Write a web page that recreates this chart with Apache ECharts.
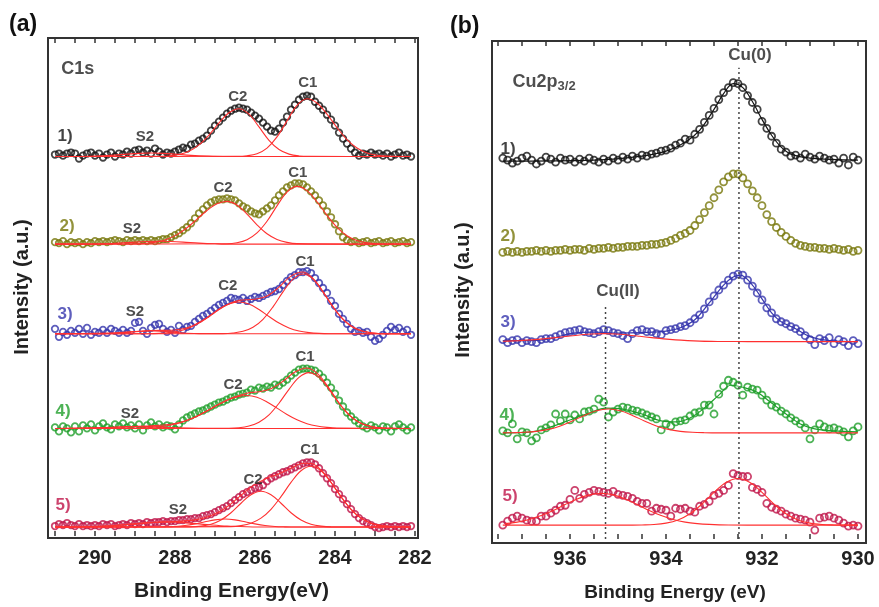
<!DOCTYPE html>
<html>
<head>
<meta charset="utf-8">
<script src="https://cdn.jsdelivr.net/npm/echarts@6/dist/echarts.min.js"></script>
<style>
  html, body { margin: 0; background: #fff; }
  #chart { width: 879px; height: 607px; }
</style>
</head>
<body>
<div id="chart"></div>
<script>
// ---- C1s panel (a): binding energies and the five spectra (height above each baseline, a.u.)
const ENERGY_C1S = [
  291.0,290.9,290.8,290.7,290.6,290.5,290.4,290.3,290.2,290.1,
  290.0,289.9,289.8,289.7,289.6,289.5,289.4,289.3,289.2,289.1,
  289.0,288.9,288.8,288.7,288.6,288.5,288.4,288.3,288.2,288.1,
  288.0,287.9,287.8,287.7,287.6,287.5,287.4,287.3,287.2,287.1,
  287.0,286.9,286.8,286.7,286.6,286.5,286.4,286.3,286.2,286.1,
  286.0,285.9,285.8,285.7,285.6,285.5,285.4,285.3,285.2,285.1,
  285.0,284.9,284.8,284.7,284.6,284.5,284.4,284.3,284.2,284.1,
  284.0,283.9,283.8,283.7,283.6,283.5,283.4,283.3,283.2,283.1,
  283.0,282.9,282.8,282.7,282.6,282.5,282.4,282.3,282.2,282.1
];
const C1S_1 = [
  2,3,1,3,4,3,-2,1,3,4, 1,3,-1,2,4,0,3,2,5,3, 6,7,4,6,3,8,5,2,4,3,
  5,7,9,8,12,13,16,18,21,26, 31,35,39,43,46,48,49,48,47,44, 41,38,34,30,26,25,28,34,40,47,
  52,57,60,61,60,55,51,47,42,37, 31,24,18,13,8,4,1,3,2,4, 2,3,1,3,0,2,4,1,2,0
];
const C1S_2 = [
  2,1,3,0,2,1,2,0,2,1, 3,2,3,2,3,4,3,2,4,3, 4,3,4,3,4,3,4,5,5,7,
  9,11,14,17,21,26,31,35,39,42, 44,45,45,46,45,44,41,38,36,33, 31,30,33,36,39,44,49,53,57,59,
  61,61,60,57,53,49,44,39,33,27, 20,13,7,4,2,3,1,2,3,1, 2,3,1,2,3,1,2,3,1,2
];
const C1S_3 = [
  5,-3,2,-1,3,1,5,0,6,-1, 2,1,4,1,5,3,1,4,1,3, 11,12,3,0,6,9,10,5,2,4,
  1,8,4,7,8,12,15,18,20,23, 26,29,31,33,36,35,34,36,33,35, 37,36,38,40,42,43,45,49,53,57,
  59,62,62,63,61,56,51,46,41,33, 28,20,15,10,5,2,3,1,2,-3, -7,-5,-1,3,7,4,6,2,4,-1
];
const C1S_4 = [
  1,-3,2,0,-4,2,-3,3,0,4, -2,2,5,1,-1,4,2,5,1,3, 0,4,-2,3,6,2,4,1,3,2,
  -1,4,8,11,13,15,17,18,20,22, 24,26,27,29,31,32,34,35,36,39, 38,41,40,42,41,44,43,46,49,53,
  56,59,60,60,59,58,55,51,46,41, 35,28,22,16,12,8,5,2,0,3, 1,-2,2,1,-3,2,4,1,-2,1
];
const C1S_5 = [
  1,3,2,4,2,1,3,1,2,1, 2,1,3,2,3,1,2,3,2,4, 3,4,3,5,4,5,5,6,5,6,
  6,7,7,8,8,9,9,11,12,13, 15,17,19,21,24,27,30,33,35,37, 39,40,42,46,49,51,53,55,56,58,
  60,62,64,65,65,63,59,54,49,44, 38,33,28,23,18,13,9,6,4,2, 0,-1,0,1,0,1,0,1,0,1
];
const C1S_OFFSETS = [381, 293, 203, 108, 9];

// fitted components [energy, height]
const FIT_A1_C1 = [[291,0],[286.45,0.2],[286.2,0.75],[285.95,2.8],[285.7,8.5],[285.45,19.7],[285.2,35.8],[284.95,51.4],[284.7,58],[284.45,53.7],[284.2,42.6],[283.95,29],[283.7,16.9],[283.45,8.5],[283.2,3.6],[282.95,1.3],[282.7,0.4],[282.1,0]];
const FIT_A1_C2 = [[291,0],[288.4,0.17],[288.15,0.6],[287.9,2],[287.65,5.3],[287.4,11.7],[287.15,21.6],[286.9,33.7],[286.65,43.9],[286.4,48],[286.15,42.5],[285.9,29.7],[285.65,16.3],[285.4,7],[285.15,2.4],[284.9,0.6],[284.65,0.15],[282.1,0]];
const FIT_A1_S2 = [[291,0],[290.4,0],[290,0.4],[289.6,1.2],[289.2,2.4],[288.9,3.2],[288.6,3.5],[288.3,3.2],[288,2.4],[287.6,1.2],[287.2,0.4],[286.8,0],[282.1,0]];
const FIT_A2_C1 = [[291,0],[286.7,0.4],[286.45,1.45],[286.2,4.5],[285.95,11.3],[285.7,23],[285.45,38.5],[285.2,52.3],[284.95,58],[284.7,53.7],[284.45,42.6],[284.2,29],[283.95,16.9],[283.7,8.5],[283.45,3.6],[283.2,1.3],[282.95,0.4],[282.1,0]];
const FIT_A2_C2 = [[291,0],[288.95,0.34],[288.7,0.9],[288.45,2.3],[288.2,5],[287.95,9.6],[287.7,16.5],[287.45,25.1],[287.2,33.8],[286.95,40.5],[286.7,43],[286.45,39.3],[286.2,30.2],[285.95,19.4],[285.7,10.4],[285.45,4.7],[285.2,1.8],[284.95,0.56],[282.1,0]];
const FIT_A2_S2 = [[291,0],[290.2,0],[289.8,0.4],[289.4,1.1],[289,2.1],[288.7,2.7],[288.4,3],[288.1,2.7],[287.8,2.1],[287.4,1.1],[287,0.4],[286.6,0],[282.1,0]];
const FIT_A3_C1 = [[291,0],[286.8,0.2],[286.55,0.8],[286.3,2.5],[286.05,6.6],[285.8,14.6],[285.55,27.1],[285.3,42.1],[285.05,54.9],[284.8,60],[284.55,54.9],[284.3,42.1],[284.05,27.1],[283.8,14.6],[283.55,6.6],[283.3,2.5],[283.05,0.8],[282.8,0.2],[282.1,0]];
const FIT_A3_C2 = [[291,0],[288.65,0.1],[288.4,0.4],[288.15,1.2],[287.9,2.8],[287.65,5.9],[287.4,10.8],[287.15,17.4],[286.9,24.4],[286.65,29.9],[286.4,32],[286.15,29.9],[285.9,24.4],[285.65,17.4],[285.4,10.8],[285.15,5.9],[284.9,2.8],[284.65,1.2],[284.4,0.4],[284.15,0.1],[282.1,0]];
const FIT_A3_S2 = [[291,0],[290.2,0],[289.8,0.2],[289.4,0.8],[289.1,1.9],[288.85,2.6],[288.6,3],[288.35,2.6],[288.1,1.9],[287.8,0.8],[287.4,0.2],[287,0],[282.1,0]];
const FIT_A3_SUM = [[291,0],[289.5,1],[288.6,3.2],[288,3.8],[287.6,7.4],[287.2,16.2],[286.8,27.1],[286.4,33.6],[286,34.7],[285.7,37.9],[285.4,46.8],[285.1,57.9],[284.8,62],[284.5,53.4],[284.2,36],[283.9,19.1],[283.6,7.8],[283.3,2.5],[282.9,0.3],[282.1,0]];
const FIT_A4_C1 = [[291,0],[286.65,0.2],[286.4,0.7],[286.15,2.4],[285.9,6.2],[285.65,13.6],[285.4,25.3],[285.15,39.3],[284.9,51.2],[284.65,56],[284.4,51.2],[284.15,39.3],[283.9,25.3],[283.65,13.6],[283.4,6.2],[283.15,2.4],[282.9,0.7],[282.65,0.2],[282.1,0]];
const FIT_A4_C2 = [[291,0],[288.95,0.3],[288.7,0.7],[288.45,1.4],[288.2,2.7],[287.95,4.8],[287.7,8],[287.45,12.3],[287.2,17.6],[286.95,23.2],[286.7,28.2],[286.45,31.7],[286.2,33],[285.95,31.3],[285.7,26.6],[285.45,20.4],[285.2,14],[284.95,8.7],[284.7,4.8],[284.45,2.4],[284.2,1.1],[283.95,0.4],[282.1,0]];
const FIT_A4_S2 = [[291,0],[290.4,0],[290,0.3],[289.6,1],[289.2,1.8],[288.9,2],[288.6,1.8],[288.2,1],[287.8,0.3],[287.4,0],[282.1,0]];
const FIT_A4_SUM = [[291,0],[289.5,1.2],[288.5,2.8],[288,4.9],[287.7,8.2],[287.4,13.3],[287.1,19.9],[286.8,26.4],[286.5,31.7],[286.2,35.4],[285.9,36.8],[285.6,39.9],[285.3,47.3],[285,56.6],[284.7,60.6],[284.4,53.6],[284.1,37.4],[283.8,20.4],[283.5,8.6],[283.2,2.9],[282.8,0.4],[282.1,0]];
const FIT_A5_C1 = [[291,0],[286.6,0.4],[286.35,1.4],[286.1,3.8],[285.85,8.9],[285.6,17.8],[285.35,30.5],[285.1,44.8],[284.85,56.5],[284.6,61],[284.35,56.5],[284.1,44.8],[283.85,30.5],[283.6,17.8],[283.35,8.9],[283.1,3.8],[282.85,1.4],[282.6,0.4],[282.1,0]];
const FIT_A5_C2 = [[291,0],[287.6,0.2],[287.35,0.9],[287.1,2.8],[286.85,7],[286.6,14.3],[286.35,23.9],[286.1,32.5],[285.85,36],[285.6,32.5],[285.35,23.9],[285.1,14.3],[284.85,7],[284.6,2.8],[284.35,0.9],[284.1,0.2],[282.1,0]];
const FIT_A5_S2 = [[291,0],[288.5,0],[288.25,0.2],[288,0.6],[287.75,1.55],[287.5,3.2],[287.25,5.3],[287,7.2],[286.75,8],[286.5,7.2],[286.25,5.3],[286,3.2],[285.75,1.55],[285.5,0.6],[285.25,0.2],[285,0],[282.1,0]];
const FIT_A5_S2B = [[291,0],[290.7,0],[290.2,0.3],[289.7,1],[289.2,2.5],[288.7,4.2],[288.2,5],[287.7,4.2],[287.2,2.5],[286.7,1],[286.2,0.3],[285.7,0],[282.1,0]];
const FIT_A5_SUM = [[291,0],[290,0.5],[289,3.2],[288.5,4.8],[288,5.5],[287.5,7.2],[287.2,10],[286.9,15.1],[286.6,23.3],[286.3,33.6],[286,42.8],[285.7,49.1],[285.4,53.5],[285.1,59.1],[284.8,64],[284.6,63.8],[284.3,55.3],[284,39.2],[283.7,22.5],[283.4,10.4],[283.1,3.8],[282.8,1],[282.4,0.1],[282.1,0]];

// ---- Cu2p3/2 panel (b)
const ENERGY_CU = [
  937.4,937.3,937.2,937.1,937.0,936.9,936.8,936.7,936.6,936.5,
  936.4,936.3,936.2,936.1,936.0,935.9,935.8,935.7,935.6,935.5,
  935.4,935.3,935.2,935.1,935.0,934.9,934.8,934.7,934.6,934.5,
  934.4,934.3,934.2,934.1,934.0,933.9,933.8,933.7,933.6,933.5,
  933.4,933.3,933.2,933.1,933.0,932.9,932.8,932.7,932.6,932.5,
  932.4,932.3,932.2,932.1,932.0,931.9,931.8,931.7,931.6,931.5,
  931.4,931.3,931.2,931.1,931.0,930.9,930.8,930.7,930.6,930.5,
  930.4,930.3,930.2,930.1,930.0
];
const CU_1 = [
  3,1,-2,0,3,5,1,-3,0,4, 2,-1,3,1,2,-1,2,0,3,1, -1,2,0,3,1,4,2,5,3,6,
  5,7,8,10,11,13,16,18,22,21, 27,32,39,46,53,62,69,74,79,78, 74,66,59,52,40,33,25,18,12,9,
  5,6,3,7,4,2,5,3,1,2, -2,3,-4,4,1
];
const CU_2 = [
  0,1,0,1,0,1,1,2,1,2, 1,2,2,3,2,3,3,2,4,3, 4,4,5,4,5,5,6,6,6,7,
  7,8,8,9,10,12,14,17,19,22, 27,33,40,47,55,63,71,76,79,79, 75,69,62,55,47,38,31,25,20,16,
  12,9,7,6,5,5,4,4,3,4, 3,2,3,1,2
];
const CU_3 = [
  2,-1,1,2,-1,1,0,-1,2,3, 3,5,7,9,10,11,12,10,9,8, 10,12,11,9,8,6,3,8,11,12,
  10,10,8,7,11,12,13,15,16,19, 23,27,33,40,46,52,57,62,66,68, 67,62,56,49,42,34,29,23,20,18,
  15,13,10,6,2,-3,3,1,4,-2, 2,0,-4,1,-2
];
const CU_4 = [
  2,0,9,-6,1,0,-8,-5,3,5, 8,19,12,19,13,18,14,21,22,24, 34,31,16,21,24,26,25,23,22,20,
  18,16,14,3,9,7,11,12,13,17, 20,21,28,28,19,39,47,53,51,48, 38,46,44,43,38,33,28,26,22,19,
  15,12,9,5,-6,3,9,6,4,5, 3,1,-4,2,6
];
const CU_5 = [
  0,4,7,9,7,5,4,4,9,9, 12,15,19,20,26,35,27,31,33,35, 34,33,32,34,31,30,29,27,24,22,
  22,14,17,16,15,9,17,16,17,14, 13,19,21,24,30,32,35,40,52,50, 49,49,38,36,33,22,18,16,14,11,
  9,7,6,5,3,-5,7,8,9,7, 5,2,-1,0,-1
];
const CU_OFFSETS = [381, 289, 199, 107, 14];

const FIT_B1_SUM = [[937.4,0],[935.5,1],[934.5,5],[934,10],[933.6,19],[933.3,31],[933,52],[932.8,68],[932.6,78],[932.4,74],[932.2,60],[932,42],[931.8,26],[931.6,14],[931.4,7],[931,3],[930,1]];
const FIT_B3_SUM = [[937.4,1],[936.8,1],[936.4,3],[936,8],[935.5,9.5],[935,8.5],[934.5,9],[934,10.5],[933.7,14],[933.4,22],[933.1,39],[932.8,57],[932.6,65],[932.45,67],[932.2,57],[932,43],[931.8,29],[931.6,20],[931.3,13],[931,5],[930.6,1],[930,0]];
const FIT_B3_CU2 = [[937.4,0.4],[937.3,0.5],[937.05,1],[936.8,1.7],[936.55,2.7],[936.3,4],[936.05,5.4],[935.8,6.7],[935.55,7.7],[935.3,8],[935.05,7.7],[934.8,6.7],[934.55,5.4],[934.3,4],[934.05,2.7],[933.8,1.7],[933.55,1],[933.3,0.5],[933.05,0.24],[932.8,0.1],[932.3,0],[930,0]];
const FIT_B4_SUM = [[937.4,0],[936.8,1],[936.4,6],[936,13],[935.6,20],[935.25,25],[934.9,24],[934.5,19],[934.1,12],[933.8,11],[933.5,15],[933.2,25],[932.9,38],[932.65,48],[932.4,46],[932.1,41],[931.8,30],[931.5,19],[931.2,9],[930.9,4],[930.5,2],[930,1]];
const FIT_B4_CU2 = [[937.4,0],[937.2,0.17],[936.95,0.55],[936.7,1.5],[936.45,3.5],[936.2,7],[935.95,12],[935.7,17.6],[935.45,22.2],[935.2,24],[934.95,22.2],[934.7,17.6],[934.45,12],[934.2,7],[933.95,3.5],[933.7,1.5],[933.45,0.55],[933.2,0.17],[932.9,0],[930,0]];
const FIT_B5_CU2 = [[937.35,1.5],[937.1,3],[936.85,5.7],[936.6,9.6],[936.35,14.8],[936.1,20.8],[935.85,26.4],[935.6,30.5],[935.35,32],[935.1,30.5],[934.85,26.4],[934.6,20.8],[934.35,14.8],[934.1,9.6],[933.85,5.7],[933.6,3],[933.35,1.5],[933.1,0.7],[932.7,0.1],[932.3,0],[930,0]];
const FIT_B5_CU0 = [[937.4,0],[934.7,0],[934.5,0.16],[934.25,0.6],[934,2],[933.75,5.2],[933.5,11.4],[933.25,21.2],[933,33],[932.75,43],[932.5,47],[932.25,43],[932,33],[931.75,21.2],[931.5,11.4],[931.25,5.2],[931,2],[930.75,0.6],[930.5,0.16],[930.2,0],[930,0]];

// reference lines: [energy, top]
const CU_MARKERS = [[932.48, 475], [935.26, 236]];

// annotations: [text, energy, height, spectrum index or -1]
const NOTES_A = [
  ['C1s', 290.43, 469, -1],
  ['C1', 284.68, 455, -1], ['C2', 286.43, 441, -1], ['S2', 288.75, 401, -1], ['1)', 290.75, 401, 0],
  ['C1', 284.93, 365, -1], ['C2', 286.8, 350, -1], ['S2', 289.08, 308, -1], ['2)', 290.7, 311, 1],
  ['C1', 284.75, 275, -1], ['C2', 286.68, 251, -1], ['S2', 289.0, 225, -1], ['3)', 290.75, 223, 2],
  ['C1', 284.75, 180, -1], ['C2', 286.55, 152, -1], ['S2', 289.13, 123, -1], ['4)', 290.8, 125, 3],
  ['C1', 284.63, 86, -1], ['C2', 286.05, 56, -1], ['S2', 287.93, 26, -1], ['5)', 290.8, 31, 4]
];
const NOTES_B = [
  ['Cu(0)', 932.25, 488, -1], ['Cu(II)', 935.0, 250, -1],
  ['1)', 937.29, 393, 0], ['2)', 937.29, 305, 1], ['3)', 937.29, 218, 2],
  ['4)', 937.31, 125, 3], ['5)', 937.25, 43, 4]
];

const FONT = "'Liberation Sans', Arial, Helvetica, sans-serif";
const COLORS = ['#141414', '#77770a', '#3636ad', '#1f9f2b', '#bf1449'];
const RED = '#ff3030';

function circles(xi, yi, energies, values, offset, color, size) {
  return {
    type: 'scatter', xAxisIndex: xi, yAxisIndex: yi, symbol: 'circle', symbolSize: size, silent: true,
    itemStyle: { color: 'rgba(0,0,0,0)', borderColor: color, borderWidth: 1.8 },
    data: energies.map((e, i) => [e, values[i] + offset])
  };
}
function curve(xi, yi, points, offset, color, width) {
  return {
    type: 'line', xAxisIndex: xi, yAxisIndex: yi, smooth: 0.35, symbol: 'none', silent: true,
    lineStyle: { color: color, width: width },
    data: points.map(p => [p[0], p[1] + offset])
  };
}
function notes(xi, yi, items) {
  return {
    type: 'scatter', xAxisIndex: xi, yAxisIndex: yi, symbolSize: 0, z: 20, silent: true,
    label: { show: true, position: 'inside', formatter: '{b}', fontFamily: FONT, fontWeight: 'bold', fontSize: 15, color: '#222' },
    data: items.map(n => ({
      name: n[0], value: [n[1], n[2]],
      label: n[3] >= 0 ? { color: COLORS[n[3]], fontSize: 17 } : (n[0].length > 3 ? { fontSize: 17 } : (n[0] === 'C1s' ? { fontSize: 18 } : {}))
    }))
  };
}
const even = v => (Math.abs(v % 2) < 1e-6 ? String(v) : '');

function energyAxis(grid, min, max, pos, margin, name, gap, nameSize) {
  return {
    type: 'value', gridIndex: grid, inverse: true, min: min, max: max, interval: 0.5, position: pos,
    axisLine: { show: false },
    axisTick: { show: true, inside: true, length: 5, lineStyle: { color: '#333', width: 1.5 } },
    axisLabel: pos === 'bottom'
      ? { show: true, formatter: even, margin: margin, fontFamily: FONT, fontWeight: 'bold', fontSize: 20, color: '#222', hideOverlap: false }
      : { show: false },
    splitLine: { show: false },
    name: pos === 'bottom' ? name : '',
    nameLocation: 'middle', nameGap: gap,
    nameTextStyle: { fontFamily: FONT, fontWeight: 'bold', fontSize: nameSize, color: '#222' }
  };
}
function intensityAxis(grid, max, gap) {
  return {
    type: 'value', gridIndex: grid, min: 0, max: max,
    axisLine: { show: false }, axisTick: { show: false }, axisLabel: { show: false }, splitLine: { show: false },
    name: 'Intensity (a.u.)', nameLocation: 'middle', nameRotate: 90, nameGap: gap,
    nameTextStyle: { fontFamily: FONT, fontWeight: 'bold', fontSize: 20, color: '#222' }
  };
}

const chart = echarts.init(document.getElementById('chart'), null, { renderer: 'canvas' });

const series = [];
const dataA = [C1S_1, C1S_2, C1S_3, C1S_4, C1S_5];
dataA.forEach((v, i) => series.push(circles(1, 1, ENERGY_C1S, v, C1S_OFFSETS[i], COLORS[i], 6.5)));
[
  [FIT_A1_S2, 0], [FIT_A1_C2, 0], [FIT_A1_C1, 0],
  [FIT_A2_S2, 1], [FIT_A2_C2, 1], [FIT_A2_C1, 1],
  [FIT_A3_S2, 2], [FIT_A3_C2, 2], [FIT_A3_C1, 2], [FIT_A3_SUM, 2],
  [FIT_A4_S2, 3], [FIT_A4_C2, 3], [FIT_A4_C1, 3], [FIT_A4_SUM, 3],
  [FIT_A5_S2B, 4], [FIT_A5_S2, 4], [FIT_A5_C2, 4], [FIT_A5_C1, 4], [FIT_A5_SUM, 4]
].forEach(f => series.push(curve(1, 1, f[0], C1S_OFFSETS[f[1]], RED, 1.1)));

CU_MARKERS.forEach(m => series.push({
  type: 'line', xAxisIndex: 4, yAxisIndex: 3, symbol: 'none', silent: true,
  lineStyle: { color: '#444', width: 1.5, type: [2, 3] },
  data: [[m[0], 0], [m[0], m[1]]]
}));
const dataB = [CU_1, CU_2, CU_3, CU_4, CU_5];
dataB.forEach((v, i) => series.push(circles(4, 3, ENERGY_CU, v, CU_OFFSETS[i], COLORS[i], 7)));
series.push(curve(4, 3, FIT_B1_SUM, CU_OFFSETS[0], COLORS[0], 1.2));
series.push(curve(4, 3, FIT_B3_SUM, CU_OFFSETS[2], COLORS[2], 1.2));
series.push(curve(4, 3, FIT_B4_SUM, CU_OFFSETS[3], COLORS[3], 1.2));
series.push(curve(4, 3, FIT_B3_CU2, CU_OFFSETS[2], RED, 1.1));
series.push(curve(4, 3, FIT_B4_CU2, CU_OFFSETS[3], RED, 1.1));
series.push(curve(4, 3, FIT_B5_CU2, CU_OFFSETS[4], RED, 1.1));
series.push(curve(4, 3, FIT_B5_CU0, CU_OFFSETS[4], RED, 1.1));

series.push(notes(1, 1, NOTES_A));
const noteB = notes(4, 3, NOTES_B);
noteB.label.rich = {
  m: { fontFamily: FONT, fontWeight: 'bold', fontSize: 18, color: '#222' },
  s: { fontFamily: FONT, fontWeight: 'bold', fontSize: 13, color: '#222', padding: [9, 0, 0, 0] }
};
noteB.data.push({ name: 'Cu2p3/2', value: [936.54, 461], label: { formatter: '{m|Cu2p}{s|3/2}' } });
series.push(noteB);

chart.setOption({
  animation: false,
  backgroundColor: '#fff',
  grid: [
    { left: 48, top: 38, width: 370, height: 500, show: true, borderColor: '#333', borderWidth: 2, backgroundColor: 'transparent' },
    { left: 48, top: 38, width: 367, height: 500 },
    { left: 492, top: 41, width: 374, height: 502, show: true, borderColor: '#333', borderWidth: 2, backgroundColor: 'transparent' },
    { left: 492, top: 41, width: 366, height: 502 }
  ],
  xAxis: [
    { type: 'value', gridIndex: 0, show: false, min: 0, max: 1 },
    energyAxis(1, 282, 291.175, 'bottom', 12, 'Binding Energy(eV)', 45, 21),
    energyAxis(1, 282, 291.175, 'top', 0, '', 0, 12),
    { type: 'value', gridIndex: 2, show: false, min: 0, max: 1 },
    energyAxis(3, 930, 937.625, 'bottom', 10, 'Binding Energy (eV)', 44, 19),
    energyAxis(3, 930, 937.625, 'top', 0, '', 0, 12)
  ],
  yAxis: [
    { type: 'value', gridIndex: 0, show: false, min: 0, max: 1 },
    intensityAxis(1, 500, 16),
    { type: 'value', gridIndex: 2, show: false, min: 0, max: 1 },
    intensityAxis(3, 502, 19)
  ],
  graphic: [
    { type: 'text', left: 9, top: 13, style: { text: '(a)', font: "bold 23px 'Liberation Sans', Arial, sans-serif", fill: '#111' } },
    { type: 'text', left: 450, top: 15, style: { text: '(b)', font: "bold 23px 'Liberation Sans', Arial, sans-serif", fill: '#111' } }
  ],
  series: series
});
</script>
</body>
</html>
